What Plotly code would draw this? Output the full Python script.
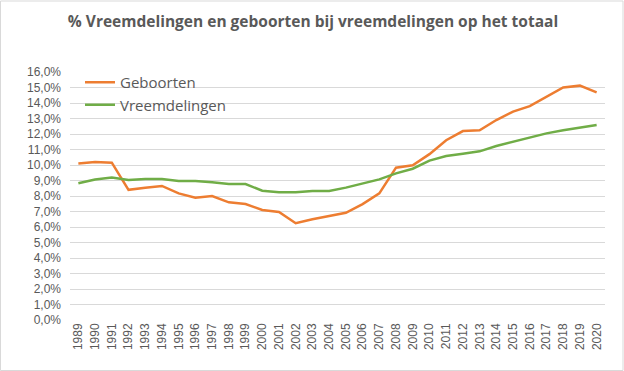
import plotly.graph_objects as go

years = [str(y) for y in range(1989, 2021)]
geboorten = [10.1, 10.2, 10.15, 8.4, 8.53, 8.65, 8.17, 7.89, 8.0, 7.59, 7.48, 7.1, 6.97, 6.24, 6.5,
             6.73, 6.92, 7.48, 8.17, 9.83, 9.98, 10.7, 11.6, 12.19, 12.24, 12.9, 13.44, 13.8, 14.4,
             15.0, 15.12, 14.69]
vreemdelingen = [8.82, 9.07, 9.2, 9.03, 9.1, 9.1, 8.97, 8.97, 8.88, 8.77, 8.77, 8.34, 8.24, 8.24,
                 8.32, 8.32, 8.54, 8.82, 9.07, 9.46, 9.76, 10.28, 10.58, 10.73, 10.88, 11.23, 11.5,
                 11.76, 12.04, 12.24, 12.43, 12.58]
y_ticks = list(range(0, 17))
y_labels = [f"{v},0%" for v in y_ticks]

W, H = 624, 371
L, R, T, B = 70, 19, 72, 51

fig = go.Figure()
fig.add_trace(go.Scatter(x=years, y=geboorten, mode="lines", name="Geboorten",
                         line=dict(color="#ED7D31", width=2.5)))
fig.add_trace(go.Scatter(x=years, y=vreemdelingen, mode="lines", name="Vreemdelingen",
                         line=dict(color="#70AD47", width=2.5)))

pw, ph = W - L - R, H - T - B
fig.update_layout(
    width=W, height=H,
    margin=dict(l=L, r=R, t=T, b=B, autoexpand=False),
    paper_bgcolor="white", plot_bgcolor="white",
    title=dict(text="<b>% Vreemdelingen en geboorten bij vreemdelingen op het totaal</b>",
               x=(313 - L) / pw, xref="paper", xanchor="center", y=1 - 22 / H, yanchor="middle",
               font=dict(family="Open Sans, Liberation Sans, sans-serif", size=15.5, color="#595959")),
    xaxis=dict(type="category", range=[-0.5, len(years) - 0.5], tickangle=-90,
               showgrid=False, zeroline=False, showline=False, ticks="",
               tickfont=dict(family="Liberation Sans, Arial, sans-serif", size=12, color="#595959"),
               automargin=False),
    yaxis=dict(range=[0, 16], tickvals=y_ticks, ticktext=y_labels,
               showgrid=True, gridcolor="#D9D9D9", gridwidth=1, zeroline=False, showline=False,
               ticks="", ticklabelstandoff=8,
               tickfont=dict(family="Liberation Sans, Arial, sans-serif", size=12, color="#595959"),
               automargin=False),
    legend=dict(x=(80 - L) / pw, y=1 - (66 - T) / ph, xanchor="left", yanchor="top",
                bgcolor="rgba(0,0,0,0)",
                font=dict(family="Open Sans, Liberation Sans, sans-serif", size=15, color="#595959"),
                tracegroupgap=0, itemwidth=30),
    showlegend=True,
    shapes=[dict(type="rect", xref="paper", yref="paper",
                 x0=-L / pw + 0.5 / pw, x1=1 + (R - 1) / pw,
                 y0=-B / ph + 0.5 / ph, y1=1 + (T - 1) / ph,
                 line=dict(color="#D9D9D9", width=1), fillcolor="rgba(0,0,0,0)", layer="below")],
)

fig.write_html("out.html", config={"displayModeBar": False},
               post_script="document.body.style.margin='0';document.body.style.overflow='hidden';")
